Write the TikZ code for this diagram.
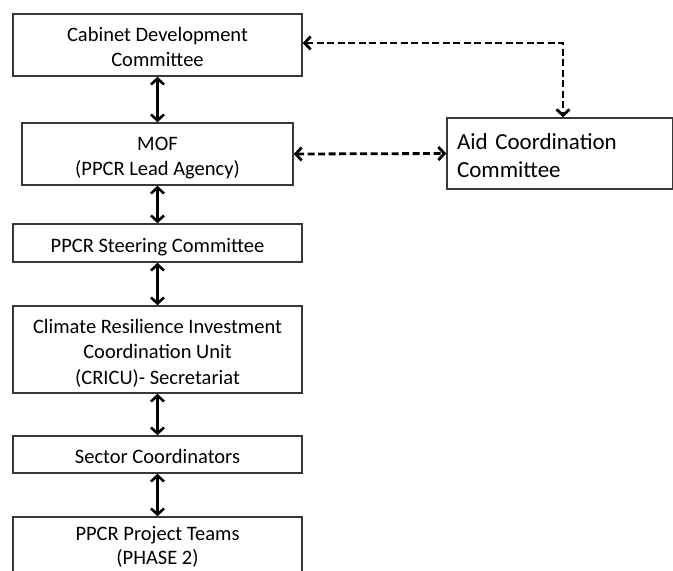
\documentclass[tikz,border=0pt]{standalone}
\usepackage{fontspec}
\setmainfont{Carlito}
\usetikzlibrary{arrows.meta}
\newcommand\lowc[2][-4pt]{\raisebox{#1}[\height][\depth]{\begin{tabular}{@{}c@{}}#2\end{tabular}}}
\newcommand\lowl[1]{\raisebox{-4pt}[\height][\depth]{\begin{tabular}{@{}l@{}}#1\end{tabular}}}
\begin{document}
\begin{tikzpicture}[x=1pt,y=-1pt,
  box/.style={draw=black!78, line width=1.5pt, rectangle, inner sep=0pt, align=center,
    font=\fontsize{20.5}{25.5}\selectfont, fill=white},
  link/.style={line width=2.6pt, {Straight Barb[length=6pt,width=13pt]}-{Straight Barb[length=6pt,width=13pt]}},
  dlink/.style={link, line width=2.8pt, dash pattern=on 7pt off 3.5pt}]
\clip (0,0) rectangle (673,571);
\fill[white] (0,0) rectangle (673,571);
\node[box, minimum width=289pt, minimum height=62pt] (cab) at (157.5,45) {\lowc{Cabinet Development\\Committee}};
\node[box, minimum width=271pt, minimum height=62pt] (mof) at (157.5,154) {\lowc{MOF\\(PPCR Lead Agency)}};
\node[box, minimum width=226pt, minimum height=71pt, align=left, text width=206pt, inner xsep=10pt,
  font=\fontsize{23}{28}\selectfont] (aid) at (560,153.5) {\lowl{Aid Coordination\\Committee}};
\node[box, minimum width=289pt, minimum height=38pt] (ste) at (157.5,243) {\lowc{PPCR Steering Committee}};
\node[box, minimum width=289pt, minimum height=87pt] (cri) at (157.5,349.5) {\lowc{Climate Resilience Investment\\Coordination Unit\\(CRICU)- Secretariat}};
\node[box, minimum width=289pt, minimum height=37pt] (sec) at (157.5,454.5) {\lowc{Sector Coordinators}};
\node[box, minimum width=289pt, minimum height=63pt, font=\fontsize{20.5}{24.5}\selectfont] (pro) at (157.5,548.5) {\lowc[1pt]{PPCR Project Teams\\(PHASE 2)}};
\coordinate (cor) at (563,43);
\draw[link] (cab) -- (mof);
\draw[link] (mof) -- (ste);
\draw[link] (ste) -- (cri);
\draw[link] (cri) -- (sec);
\draw[link] (sec) -- (pro);
\draw[dlink] (cab.east |- cor) -- (cor) -- (cor |- aid.north);
\draw[dlink] (mof.east) -- (aid.west);
\end{tikzpicture}
\end{document}
